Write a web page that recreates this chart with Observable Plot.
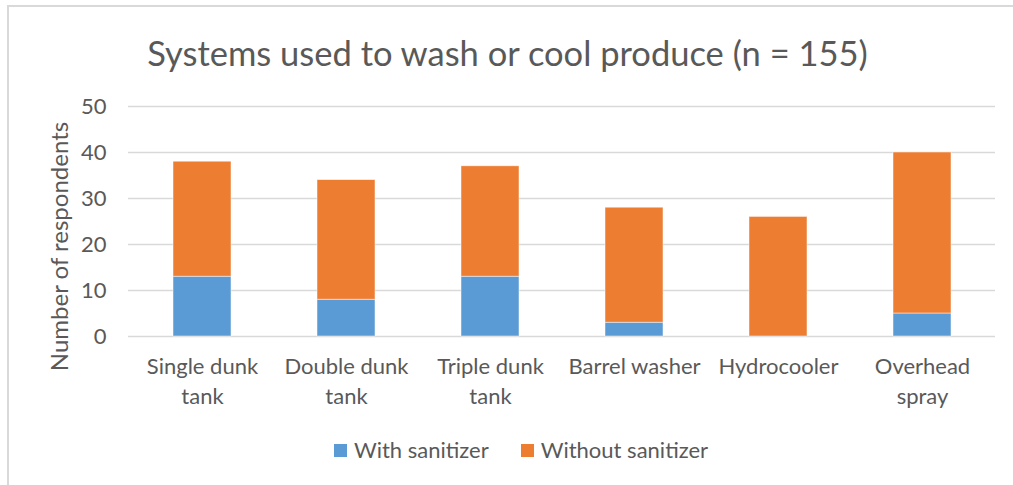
<!DOCTYPE html>
<html>
<head>
<meta charset="utf-8">
<script src="https://cdn.jsdelivr.net/npm/d3@7"></script>
<script src="https://cdn.jsdelivr.net/npm/@observablehq/plot@0.6"></script>
<style>
  html, body { margin: 0; padding: 0; background: #fff; overflow: hidden; }
  #wrap { position: relative; width: 1013px; height: 485px; font-family: Lato, "Open Sans", sans-serif; color: #595959; }
  #frame { position: absolute; left: 7px; top: 5px; width: 1100px; height: 600px; border-left: 2px solid #d9d9d9; border-top: 2px solid #d9d9d9; box-sizing: border-box; }
  #title { position: absolute; left: 1px; top: 32px; width: 1013px; text-align: center; font-size: 34.5px; line-height: 42px; }
  #chart { position: absolute; left: 0; top: 90px; }
  #legend { position: absolute; left: 334px; top: 436px; display: flex; align-items: center; font-size: 22px; line-height: 28px; }
  .item { display: flex; align-items: center; margin-right: 32px; }
  .sw { width: 13px; height: 13px; margin-right: 7px; }
</style>
</head>
<body>
<div id="wrap">
  <div id="frame"></div>
  <div id="title">Systems used to wash or cool produce (n = 155)</div>
  <div id="chart"></div>
  <div id="legend"></div>
</div>
<script>
const categories = ["Single dunk tank", "Double dunk tank", "Triple dunk tank", "Barrel washer", "Hydrocooler", "Overhead spray"];
const tickLabels = ["Single dunk\ntank", "Double dunk\ntank", "Triple dunk\ntank", "Barrel washer", "Hydrocooler", "Overhead\nspray"];
const withSanitizer = [13, 8, 13, 3, 0, 5];
const withoutSanitizer = [25, 26, 24, 25, 26, 35];
const seriesNames = ["With sanitizer", "Without sanitizer"];
const seriesColors = ["#5B9BD5", "#ED7D31"];
const yTicks = [0, 10, 20, 30, 40, 50];
const yLabel = "Number of respondents";

const rows = [];
categories.forEach((c, i) => {
  rows.push({cat: c, series: seriesNames[0], value: withSanitizer[i]});
  rows.push({cat: c, series: seriesNames[1], value: withoutSanitizer[i]});
});
const labelOf = new Map(categories.map((c, i) => [c, tickLabels[i]]));

const chart = Plot.plot({
  width: 1013,
  height: 330,
  marginTop: 16,
  marginBottom: 84,
  marginLeft: 128,
  marginRight: 18,
  style: {fontFamily: "Lato, 'Open Sans', sans-serif", color: "#595959", background: "transparent", overflow: "visible"},
  x: {domain: categories, paddingInner: 0.6, paddingOuter: 0.3},
  y: {domain: [0, 50]},
  color: {domain: seriesNames, range: seriesColors},
  marks: [
    Plot.gridY(yTicks, {stroke: "#d9d9d9", strokeOpacity: 1, strokeWidth: 1.5}),
    Plot.barY(rows, {x: "cat", y: "value", fill: "series", stroke: "#ffffff", strokeWidth: 0.8, strokeOpacity: 0.6}),
    Plot.axisY({ticks: yTicks, tickSize: 0, tickPadding: 22, fontSize: 22, label: null, fill: "#595959"}),
    Plot.axisX({tickSize: 0, tickPadding: 16, fontSize: 22, lineHeight: 1.36, label: null, tickFormat: d => labelOf.get(d), fill: "#595959"}),
    Plot.text([yLabel], {text: d => d, frameAnchor: "left", textAnchor: "middle", rotate: -90, dx: -68, dy: 25, fontSize: 24, fill: "#595959"})
  ]
});
document.getElementById("chart").appendChild(chart);

const legend = document.getElementById("legend");
seriesNames.forEach((s, i) => {
  const item = document.createElement("div");
  item.className = "item";
  const sw = document.createElement("div");
  sw.className = "sw";
  sw.style.background = seriesColors[i];
  const t = document.createElement("span");
  t.textContent = s;
  item.appendChild(sw);
  item.appendChild(t);
  legend.appendChild(item);
});
</script>
</body>
</html>
